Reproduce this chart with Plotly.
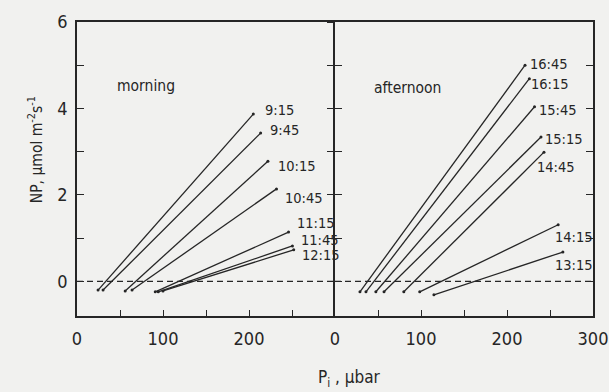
import plotly.graph_objects as go

# Net photosynthesis vs. intercellular CO2 partial pressure, morning and afternoon runs
morning_times = ["9:15", "9:45", "10:15", "10:45", "11:15", "11:45", "12:15"]
morning_pi_start = [24.5, 30.3, 56, 64, 91, 94.5, 100]
morning_pi_end = [205, 213.5, 222, 232, 246, 250.5, 252]
morning_np_start = [-0.20, -0.20, -0.22, -0.20, -0.24, -0.24, -0.22]
morning_np_end = [3.87, 3.43, 2.78, 2.14, 1.14, 0.82, 0.73]
morning_label_pi = [216, 222, 231, 239, 254, 258, 259]
morning_label_np = [3.96, 3.50, 2.67, 1.93, 1.36, 0.96, 0.61]

afternoon_times = ["16:45", "16:15", "15:45", "15:15", "14:45", "14:15", "13:15"]
afternoon_pi_start = [29, 36, 47.5, 57, 80, 98.5, 115]
afternoon_pi_end = [221, 226, 232, 239.5, 243, 259.5, 265]
afternoon_np_start = [-0.24, -0.24, -0.24, -0.24, -0.24, -0.24, -0.31]
afternoon_np_end = [5.00, 4.69, 4.04, 3.34, 2.99, 1.31, 0.68]
afternoon_label_pi = [224, 226, 235, 242, 233, 254, 253]
afternoon_label_np = [5.03, 4.57, 3.97, 3.30, 2.65, 1.03, 0.38]

pi_ticks = [0, 50, 100, 150, 200, 250, 300]
pi_left_labels = ["0", "", "100", "", "200", "", ""]
pi_right_labels = ["0", "", "100", "", "200", "", "300"]
np_ticks = [0, 1, 2, 3, 4, 5, 6]
np_labels = ["0", "", "2", "", "4", "", "6"]
zero_pi = [0, 300]
zero_np = [0, 0]

INK = "#262626"
PAPER = "#f1f1ef"
FONT = "Liberation Sans Narrow, DejaVu Sans Condensed, Liberation Sans, sans-serif"

fig = go.Figure()

panels = [
    ("x", "y", morning_times, morning_pi_start, morning_pi_end,
     morning_np_start, morning_np_end, morning_label_pi, morning_label_np),
    ("x2", "y2", afternoon_times, afternoon_pi_start, afternoon_pi_end,
     afternoon_np_start, afternoon_np_end, afternoon_label_pi, afternoon_label_np),
]

for xa, ya, times, x0s, x1s, y0s, y1s, lxs, lys in panels:
    fig.add_trace(go.Scatter(
        x=zero_pi, y=zero_np, xaxis=xa, yaxis=ya, mode="lines",
        line=dict(color=INK, width=1.3, dash="6px,4px"),
        hoverinfo="skip", showlegend=False))
    for t, x0, x1, y0, y1 in zip(times, x0s, x1s, y0s, y1s):
        fig.add_trace(go.Scatter(
            x=[x0, x1], y=[y0, y1], xaxis=xa, yaxis=ya, mode="lines+markers",
            line=dict(color=INK, width=1.3),
            marker=dict(color=INK, size=3),
            name=t, showlegend=False))
    for t, lx, ly in zip(times, lxs, lys):
        fig.add_annotation(
            x=lx, y=ly, xref=xa, yref=ya, text=t, showarrow=False,
            xanchor="left", yanchor="middle",
            font=dict(family=FONT, size=14.5, color=INK))

fig.add_annotation(x=44, y=4.52, xref="x", yref="y", text="morning",
                   showarrow=False, xanchor="left", yanchor="middle",
                   font=dict(family=FONT, size=15.5, color=INK))
fig.add_annotation(x=43, y=4.47, xref="x2", yref="y2", text="afternoon",
                   showarrow=False, xanchor="left", yanchor="middle",
                   font=dict(family=FONT, size=15.5, color=INK))

fig.add_annotation(x=-0.103, y=0.565, xref="paper", yref="paper",
                   text="NP, \u03bcmol m<sup>-2</sup>s<sup>-1</sup>",
                   textangle=-90, showarrow=False,
                   font=dict(family=FONT, size=15.5, color=INK))
fig.add_annotation(x=0.529, y=-0.258, xref="paper", yref="paper",
                   text="P<sub>i</sub> , \u03bcbar", showarrow=False,
                   font=dict(family=FONT, size=17, color=INK))

xcommon = dict(range=[0, 300], tickvals=pi_ticks, ticks="inside", ticklen=6,
               tickwidth=1.3, tickcolor=INK, showline=True, linewidth=1.5,
               linecolor=INK, mirror=True, showgrid=False, zeroline=False,
               ticklabelstandoff=6, automargin=False,
               tickfont=dict(family=FONT, size=18, color=INK))
ycommon = dict(range=[-0.8, 6], tickvals=np_ticks, ticklen=7,
               tickwidth=1.3, tickcolor=INK, linewidth=1.5,
               linecolor=INK, showgrid=False, zeroline=False, automargin=False,
               tickfont=dict(family=FONT, size=18, color=INK))

fig.update_layout(
    width=609, height=392,
    margin=dict(l=77, r=16, t=22, b=76, autoexpand=False),
    paper_bgcolor=PAPER, plot_bgcolor=PAPER,
    xaxis=dict(domain=[0, 0.5], anchor="y", ticktext=pi_left_labels, **xcommon),
    xaxis2=dict(domain=[0.5, 1], anchor="y2", ticktext=pi_right_labels, **xcommon),
    # left frame edge with labels
    yaxis=dict(anchor="x", ticktext=np_labels, ticklabelstandoff=4,
               ticks="inside", showline=True, mirror=False, **ycommon),
    # shared divider and right frame edge, ticks pointing into the right panel
    yaxis2=dict(anchor="x2", matches="y", showticklabels=False,
                ticks="inside", showline=True, mirror="allticks", **ycommon),
    # divider ticks pointing back into the left panel
    yaxis3=dict(anchor="x2", overlaying="y2", matches="y", showticklabels=False,
                ticks="outside", showline=False, **ycommon),
)
fig.add_trace(go.Scatter(x=[None], y=[None], xaxis="x2", yaxis="y3",
                         showlegend=False, hoverinfo="skip"))

fig.write_html("out.html")
